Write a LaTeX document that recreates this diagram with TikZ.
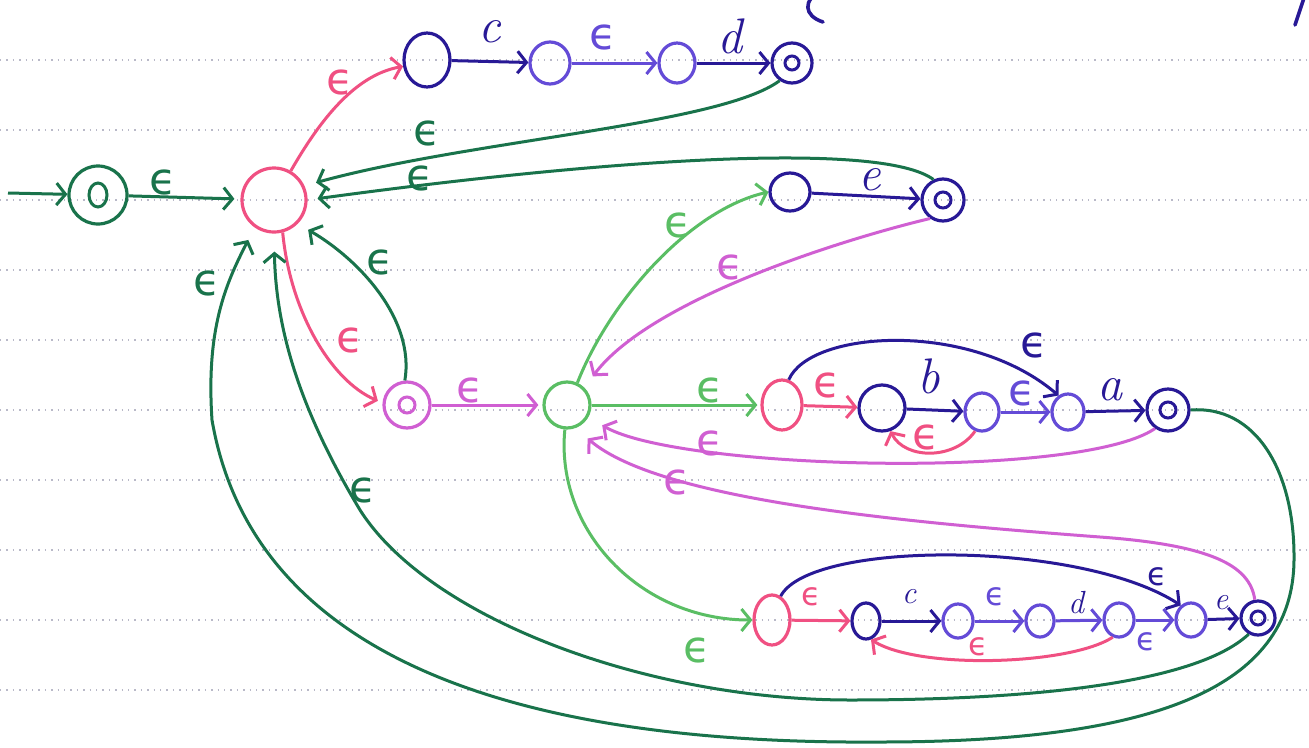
\documentclass[tikz,border=0pt]{standalone}
\usepackage{fontspec}
\newfontfamily\epsfont{DejaVu Sans}
\usetikzlibrary{arrows.meta,shapes.geometric}
\definecolor{dgreen}{RGB}{25,115,75}
\definecolor{hpink}{RGB}{240,80,130}
\definecolor{mag}{RGB}{208,95,210}
\definecolor{lgreen}{RGB}{90,190,100}
\definecolor{dblue}{RGB}{40,25,150}
\definecolor{vblue}{RGB}{100,75,215}
\definecolor{paperline}{RGB}{185,185,200}
\newcommand\epsl{{\epsfont ϵ}}
\newcommand\ltr[1]{{\itshape #1}}
\begin{document}
\begin{tikzpicture}[x=1pt,y=-1pt,
  st/.style={ellipse, draw, line width=3.2pt, inner sep=0pt},
  sz/.style args={#1x#2}{minimum width=#1pt, minimum height=#2pt},
  acc/.style={path picture={\draw[line width=3pt] (path picture bounding box.center) circle (#1);}},
  ar/.style={line width=3pt, -{Straight Barb[length=9pt,width=22pt]}},
  lab/.style={inner sep=0pt, font=\fontsize{44}{44}\selectfont},
  llab/.style={inner sep=0pt, font=\fontsize{50}{50}\selectfont},
  slab/.style={inner sep=0pt, font=\fontsize{32}{32}\selectfont},
  paper/.style={paperline, line width=1.4pt, dash pattern=on 1.4pt off 5pt}
]
\useasboundingbox[fill=white] (0,0) rectangle (1309,747);
% ruled paper
\foreach \yy in {60,130,...,690} \draw[paper] (0,\yy) -- (1309,\yy);
% cut-off brackets at the top
\draw[dblue,line width=3.6pt,line cap=round] (822,-10) .. controls (802,0) and (804,16) .. (823,22);
\draw[dblue,line width=3.6pt,line cap=round] (1304,-2) -- (1295,25);

% states
\node[st,dgreen,sz=58x58,path picture={\draw[line width=3pt] (path picture bounding box.center) ellipse (9pt and 12pt);}] (s0) at (98,195) {};
\coordinate (st0) at (8,193);
\node[st,hpink,sz=64x64] (A) at (274,200) {};
\node[st,dblue,sz=46x54] (B1) at (427,60) {};
\node[st,vblue,sz=40x42] (B2) at (550,63) {};
\node[st,vblue,sz=36x40] (B3) at (677,63) {};
\node[st,dblue,sz=40x40,acc=7pt] (B4) at (792,63) {};
\node[st,dblue,sz=40x38] (C1) at (790,192) {};
\node[st,dblue,sz=42x42,acc=8pt] (C2) at (943,200) {};
\node[st,mag,sz=46x46,acc=8pt] (P) at (407,405) {};
\node[st,lgreen,sz=46x46] (D) at (567,405) {};
\node[st,hpink,sz=40x50] (E1) at (782,405) {};
\node[st,dblue,sz=46x46] (E2) at (882,408) {};
\node[st,vblue,sz=34x38] (E3) at (982,412) {};
\node[st,vblue,sz=32x36] (E4) at (1068,412) {};
\node[st,dblue,sz=42x42,acc=8pt] (E5) at (1168,410) {};
\node[st,hpink,sz=36x50] (F1) at (772,620) {};
\node[st,dblue,sz=28x36] (F2) at (866,621) {};
\node[st,vblue,sz=30x34] (F3) at (958,621) {};
\node[st,vblue,sz=28x32] (F4) at (1040,621) {};
\node[st,vblue,sz=30x34] (F5) at (1119,620) {};
\node[st,vblue,sz=30x34] (F6) at (1191,620) {};
\node[st,dblue,sz=34x34,acc=7pt] (F7) at (1258,618) {};

% connectors
\draw[ar,dgreen] (st0) -- (s0);
\draw[ar,dgreen,shorten >=6pt] (s0) -- (A);
\draw[ar,hpink] (A.60) .. controls (320,120) and (355,75) .. (B1.195);
\draw[ar,dblue] (B1) -- (B2);
\draw[ar,vblue] (B2) -- (B3);
\draw[ar,dblue] (B3) -- (B4);
\draw[ar,dgreen,shorten >=12pt] (B4.235) .. controls (720,125) and (470,140) .. (A.25);
\draw[ar,dgreen,shorten >=10pt] (C2.115) .. controls (880,140) and (600,160) .. (A.east);
\draw[ar,hpink,shorten >=5pt] (A.285) .. controls (290,310) and (330,380) .. (P.175);
\draw[ar,dgreen,shorten >=12pt] (P.95) .. controls (415,320) and (360,260) .. (A.315);
\draw[ar,mag,shorten >=4pt] (P) -- (D);
\draw[ar,lgreen] (D.65) .. controls (610,300) and (690,210) .. (C1.west);
\draw[ar,dblue] (C1) -- (C2);
\draw[ar,mag,shorten >=14pt] (C2.235) .. controls (840,240) and (650,300) .. (D.45);
\draw[ar,lgreen,shorten >=3pt] (D) -- (E1);
\draw[ar,hpink] (E1) -- (E2);
\draw[ar,dblue] (E2) -- (E3);
\draw[ar,vblue] (E3) -- (E4);
\draw[ar,dblue] (E4) -- (E5);
\draw[ar,dblue] (E1.75) .. controls (810,330) and (970,320) .. (E4.120);
\draw[ar,hpink] (E3.250) .. controls (955,460) and (905,460) .. (E2.290);
\draw[ar,mag,shorten >=16pt] (E5.235) .. controls (1080,480) and (680,470) .. (D.330);
\draw[ar,dgreen,shorten >=14pt] (E5.east) .. controls (1255,405) and (1295,470) .. (1294,560)
  .. controls (1293,690) and (1150,742) .. (880,742)
  .. controls (480,745) and (250,640) .. (212,420)
  .. controls (206,330) and (225,285) .. (A.235);
\draw[ar,dgreen,shorten >=18pt] (F7.240) .. controls (1200,680) and (1050,700) .. (850,700)
  .. controls (650,700) and (430,620) .. (360,510)
  .. controls (300,410) and (276,330) .. (A.south);
\draw[ar,mag,shorten >=16pt] (F7.100) .. controls (1250,565) and (1210,545) .. (1100,537)
  .. controls (900,522) and (660,500) .. (D.290);
\draw[ar,lgreen] (D.265) .. controls (555,530) and (640,620) .. (F1.west);
\draw[ar,hpink] (F1) -- (F2);
\draw[ar,dblue] (F2) -- (F3);
\draw[ar,vblue] (F3) -- (F4);
\draw[ar,vblue] (F4) -- (F5);
\draw[ar,vblue] (F5) -- (F6);
\draw[ar,dblue] (F6) -- (F7);
\draw[ar,dblue] (F1.70) .. controls (810,540) and (1080,540) .. (F6.125);
\draw[ar,hpink] (F5.250) .. controls (1070,665) and (920,670) .. (F2.285);

% labels
\node[lab,dgreen] (l1) at (163,182) {\epsl};
\node[lab,hpink] (l2) at (340,82) {\epsl};
\node[llab,dblue] (l3) at (490,32) {\ltr{c}};
\node[lab,vblue] (l4) at (603,37) {\epsl};
\node[llab,dblue] (l5) at (730,36) {\ltr{d}};
\node[lab,dgreen] (l6) at (427,133) {\epsl};
\node[lab,dgreen] (l7) at (420,178) {\epsl};
\node[lab,dgreen] (l8) at (380,262) {\epsl};
\node[lab,hpink] (l9) at (350,340) {\epsl};
\node[lab,dgreen] (l10) at (207,283) {\epsl};
\node[lab,dgreen] (l11) at (363,490) {\epsl};
\node[lab,mag] (l12) at (470,390) {\epsl};
\node[lab,lgreen] (l13) at (678,225) {\epsl};
\node[llab,dblue] (l14) at (870,180) {\ltr{e}};
\node[lab,mag] (l15) at (730,267) {\epsl};
\node[lab,lgreen] (l16) at (710,390) {\epsl};
\node[lab,hpink] (l17) at (827,385) {\epsl};
\node[llab,dblue] (l18) at (929,376) {\ltr{b}};
\node[lab,vblue] (l19) at (1022,393) {\epsl};
\node[lab,dblue] (l20) at (1034,345) {\epsl};
\node[llab,dblue] (l21) at (1110,390) {\ltr{a}};
\node[lab,hpink] (l22) at (926,437) {\epsl};
\node[lab,mag] (l23) at (710,443) {\epsl};
\node[lab,mag] (l24) at (677,482) {\epsl};
\node[lab,lgreen] (l25) at (697,650) {\epsl};
\node[slab,hpink] (l26) at (811,597) {\epsl};
\node[slab,dblue] (l27) at (909,597) {\ltr{c}};
\node[slab,vblue] (l28) at (995,597) {\epsl};
\node[slab,dblue] (l29) at (1076,603) {\ltr{d}};
\node[slab,vblue] (l30) at (1146,642) {\epsl};
\node[slab,dblue] (l31) at (1221,603) {\ltr{e}};
\node[slab,dblue] (l32) at (1157,577) {\epsl};
\node[slab,hpink] (l33) at (978,647) {\epsl};
\end{tikzpicture}
\end{document}
